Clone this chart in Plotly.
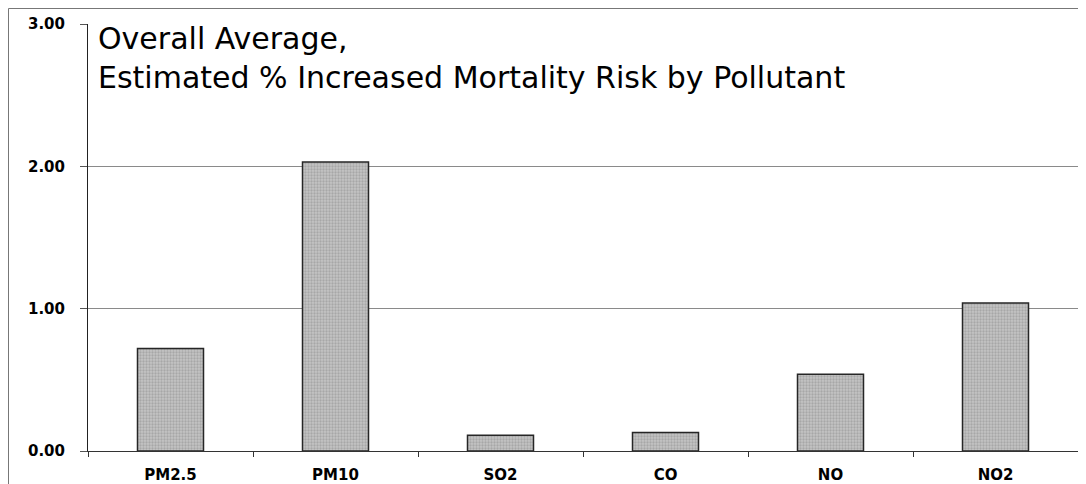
import plotly.graph_objects as go

categories = ["PM2.5", "PM10", "SO2", "CO", "NO", "NO2"]
values = [0.72, 2.03, 0.11, 0.13, 0.54, 1.04]
y_tick_vals = [0, 1, 2, 3]
y_tick_text = ["0.00", "1.00", "2.00", "3.00"]
title_lines = ["Overall Average,", "Estimated % Increased Mortality Risk by Pollutant"]

# the page body adds an 8px offset; margins are chosen so the plot area lands
# at screen x 88..1078, y 24..451
W, H = 1086, 484
OFF = 8
ML, MR, MT, MB = 80, 16, 16, 41
PW = W - ML - MR
PH = H - MT - MB

def px_x(sx):
    return (sx - OFF - ML) / PW

def px_y(sy):
    return (OFF + H - MB - sy) / PH

fig = go.Figure()
fig.add_trace(go.Bar(
    x=categories,
    y=values,
    width=0.4,
    marker=dict(
        color="#b8b8b8",
        line=dict(color="#262626", width=1.5),
        pattern=dict(shape=".", fgcolor="#8a8a8a", bgcolor="#c4c4c4", size=3, solidity=0.45),
    ),
    showlegend=False,
))

fig.update_layout(
    width=W, height=H,
    margin=dict(l=ML, r=MR, t=MT, b=MB, pad=0),
    paper_bgcolor="white",
    plot_bgcolor="white",
    bargap=0.6,
    font=dict(family="DejaVu Sans", color="black"),
)

fig.update_xaxes(
    type="category",
    showline=True, linecolor="#333333", linewidth=1,
    ticks="outside", tickson="boundaries", ticklen=5, tickcolor="#333333",
    showgrid=False,
    automargin=False,
    ticklabelstandoff=10,
    tickfont=dict(family="DejaVu Sans", size=15, weight="bold", color="black"),
)
fig.update_yaxes(
    range=[0, 3],
    tickvals=y_tick_vals, ticktext=y_tick_text,
    showline=True, linecolor="#222222", linewidth=1,
    ticks="outside", ticklen=7, tickcolor="#555555",
    showgrid=True, gridcolor="#8a8a8a", gridwidth=1,
    zeroline=False,
    automargin=False,
    ticklabelstandoff=12,
    tickfont=dict(family="DejaVu Sans", size=15, weight="bold", color="black"),
)

# outer frame (left and top)
fig.add_shape(type="line", xref="paper", yref="paper",
              x0=px_x(8.5), x1=px_x(8.5), y0=px_y(8.5), y1=px_y(500),
              line=dict(color="#777777", width=1))
fig.add_shape(type="line", xref="paper", yref="paper",
              x0=px_x(8.5), x1=px_x(1100), y0=px_y(8.5), y1=px_y(8.5),
              line=dict(color="#777777", width=1))

# title (two lines in one text block)
fig.add_annotation(text="<br>".join(title_lines), xref="paper", yref="paper",
                   x=px_x(96), y=px_y(19), xanchor="left", yanchor="top", align="left",
                   showarrow=False, font=dict(family="DejaVu Sans", size=30, color="black"))

fig.write_html("out.html")
